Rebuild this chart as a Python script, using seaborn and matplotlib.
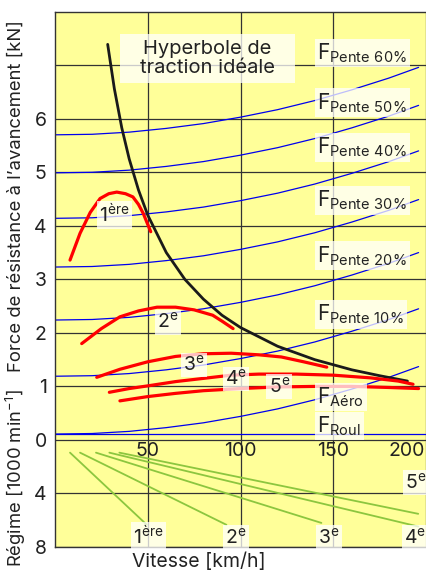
import matplotlib
matplotlib.use("Agg")
import matplotlib.pyplot as plt
from matplotlib.patches import Rectangle
import seaborn as sns

# vitesse (km/h) at which the resistance curves were read
v_res = [0, 20, 40, 60, 80, 100, 120, 140, 160, 180, 196]
v_roul = [0, 200]
f_roul = [0.11, 0.11]
f_aero = [0.11, 0.12, 0.16, 0.23, 0.32, 0.44, 0.58, 0.75, 0.95, 1.17, 1.37]
f_pente10 = [1.19, 1.20, 1.24, 1.31, 1.40, 1.52, 1.66, 1.83, 2.03, 2.25, 2.45]
f_pente20 = [2.24, 2.25, 2.29, 2.36, 2.45, 2.57, 2.71, 2.88, 3.08, 3.30, 3.50]
f_pente30 = [3.23, 3.24, 3.28, 3.35, 3.44, 3.56, 3.70, 3.87, 4.07, 4.29, 4.49]
f_pente40 = [4.14, 4.15, 4.19, 4.26, 4.35, 4.47, 4.61, 4.78, 4.98, 5.20, 5.40]
f_pente50 = [4.99, 5.00, 5.04, 5.11, 5.20, 5.32, 5.46, 5.63, 5.83, 6.05, 6.25]
f_pente60 = [5.70, 5.71, 5.75, 5.82, 5.91, 6.03, 6.17, 6.34, 6.54, 6.76, 6.96]
pente_names = ["10", "20", "30", "40", "50", "60"]
pente_label_y = [2.34, 3.44, 4.47, 5.46, 6.30, 7.23]

# hyperbole de traction ideale
v_hyp = [28.4, 32, 36, 40, 45, 50, 60, 70, 80, 90, 100, 120, 140, 160, 175, 190]
f_hyp = [7.39, 6.56, 5.83, 5.25, 4.67, 4.20, 3.50, 3.00, 2.63, 2.33, 2.10, 1.75, 1.50, 1.31, 1.20, 1.10]

# force de traction par rapport (vitesse, kN)
v_g1 = [8.1, 13.5, 19, 24.3, 29, 33.3, 38, 42, 45, 47.6, 51.6]
f_g1 = [3.36, 3.86, 4.25, 4.51, 4.60, 4.63, 4.60, 4.54, 4.40, 4.23, 3.89]
v_g2 = [14.4, 25, 35, 45, 55, 65, 75, 85, 90, 96]
f_g2 = [1.80, 2.08, 2.30, 2.41, 2.48, 2.48, 2.43, 2.33, 2.22, 2.08]
v_g3 = [22.5, 35, 50, 65, 80, 95, 110, 122, 134, 146.5]
f_g3 = [1.17, 1.32, 1.46, 1.56, 1.61, 1.62, 1.59, 1.55, 1.46, 1.36]
v_g4 = [29.3, 40, 50, 65, 80, 95, 110, 130, 150, 170, 185, 193]
f_g4 = [0.89, 0.96, 1.01, 1.09, 1.15, 1.21, 1.23, 1.23, 1.21, 1.16, 1.10, 1.04]
v_g5 = [35, 50, 65, 80, 100, 120, 140, 160, 180, 196]
f_g5 = [0.73, 0.81, 0.87, 0.92, 0.96, 0.99, 1.00, 1.00, 0.98, 0.96]
gear_labels = ["1$^{ère}$", "2$^{e}$", "3$^{e}$", "4$^{e}$", "5$^{e}$"]
gear_lab_v = [32, 61, 75, 97.6, 121]
gear_lab_f = [4.2, 2.2, 1.40, 1.14, 1.0]

# regime moteur [1000 min-1] : start / end of each gear line
reg_v = [[8.1, 49.5], [13.5, 92.4], [22.1, 143.6], [29.3, 195.8], [34.7, 195.8]]
reg_n = [[0.95, 6.34], [0.95, 6.34], [0.95, 6.2], [0.95, 6.47], [0.95, 5.52]]
reg_lab_v = [50.3, 97.4, 147.8, 194, 194.4]
reg_lab_n = [7.2, 7.3, 7.3, 7.3, 3.2]

sns.set_style("white")
plt.rcParams['font.family'] = ['Inter', 'DejaVu Sans']
plt.rcParams['mathtext.default'] = 'regular'

fig = plt.figure(figsize=(4.26, 5.74), dpi=100)
ax = fig.add_axes([55/426, 1-547/574, 1-55/426, (547-11.7)/574])
ax.set_facecolor('#ffff99')

blue = '#0000ee'
red = '#ff0000'
green = '#8cc63f'
grid_c = '#333333'
txt_c = '#222222'

bbox = dict(boxstyle='square,pad=0.12', fc='white', ec='none', alpha=0.75)

# resistance curves
sns.lineplot(x=v_roul, y=f_roul, color=blue, lw=0.9, ax=ax)
sns.lineplot(x=v_res, y=f_aero, color=blue, lw=0.9, ax=ax)
for f in [f_pente10, f_pente20, f_pente30, f_pente40, f_pente50, f_pente60]:
    sns.lineplot(x=v_res, y=f, color=blue, lw=0.9, ax=ax)

# hyperbole
sns.lineplot(x=v_hyp, y=f_hyp, color='#1a1a1a', lw=2.0, ax=ax)

# gears
for vv, ff in [(v_g1, f_g1), (v_g2, f_g2), (v_g3, f_g3), (v_g4, f_g4), (v_g5, f_g5)]:
    sns.lineplot(x=vv, y=ff, color=red, lw=2.3, ax=ax, sort=False)

# regime lines (drawn downward: 4000 min-1 = one grid step)
for vv, nn in zip(reg_v, reg_n):
    sns.lineplot(x=vv, y=[-n/4 for n in nn], color=green, lw=1.3, ax=ax)

ax.set_xlim(0, 200)
ax.set_ylim(-2, 8)
ax.set_xticks([50, 100, 150, 200])
ax.set_xticklabels([])
ax.set_yticks([-2, -1, 0, 1, 2, 3, 4, 5, 6, 7])
ax.set_yticklabels(['8', '4', '0', '1', '2', '3', '4', '5', '6', ''])
ax.tick_params(axis='x', length=0)
ax.tick_params(axis='y', length=3, color=grid_c, labelsize=14, pad=3, colors=txt_c)
ax.grid(True, color=grid_c, lw=0.9)
ax.set_axisbelow(True)
for s in ['left', 'top', 'bottom']:
    ax.spines[s].set_color(grid_c)
    ax.spines[s].set_linewidth(1.0)
ax.spines['right'].set_visible(False)
ax.set_xlabel('')
ax.set_ylabel('')

# x tick labels inside the plot
for v in [50, 100, 150]:
    ax.text(v, -0.2, str(v), ha='center', va='center', fontsize=14, color=txt_c)
ax.text(199.5, -0.2, '200', ha='right', va='center', fontsize=14, color=txt_c)

# title box of the hyperbola
ax.add_patch(Rectangle((35.1, 6.66), 94.3, 0.93, fc='white', ec='none', alpha=0.75, zorder=3))
ax.text(82, 7.13, 'Hyperbole de\ntraction idéale', ha='center', va='center',
        fontsize=14.5, color=txt_c, linespacing=1.05, zorder=4)

for name, y in zip(pente_names, pente_label_y):
    ax.text(141.5, y, 'F$_{Pente\\ ' + name + '\\%}$', ha='left', va='center',
            fontsize=15, color=txt_c, bbox=bbox)
ax.text(141.5, 0.80, 'F$_{Aéro}$', ha='left', va='center', fontsize=15, color=txt_c, bbox=bbox)
ax.text(141.5, 0.26, 'F$_{Roul}$', ha='left', va='center', fontsize=15, color=txt_c, bbox=bbox)

for lab, v, f in zip(gear_labels, gear_lab_v, gear_lab_f):
    ax.text(v, f, lab, ha='center', va='center', fontsize=14, color=txt_c, bbox=bbox)
for lab, v, n in zip(gear_labels, reg_lab_v, reg_lab_n):
    ax.text(v, -n/4, lab, ha='center', va='center', fontsize=14, color=txt_c, bbox=bbox)

fig.text(16/426, 1-196/574, "Force de résistance à l’avancement [kN]", rotation=90,
         ha='center', va='center', fontsize=13.3, color=txt_c)
fig.text(16/426, 1-478/574, "Régime [1000 min$^{-1}$]", rotation=90,
         ha='center', va='center', fontsize=13.3, color=txt_c)
fig.text(199/426, 1-562/574, "Vitesse [km/h]", ha='center', va='center',
         fontsize=14, color=txt_c)

fig.savefig('out.png', dpi=100)
